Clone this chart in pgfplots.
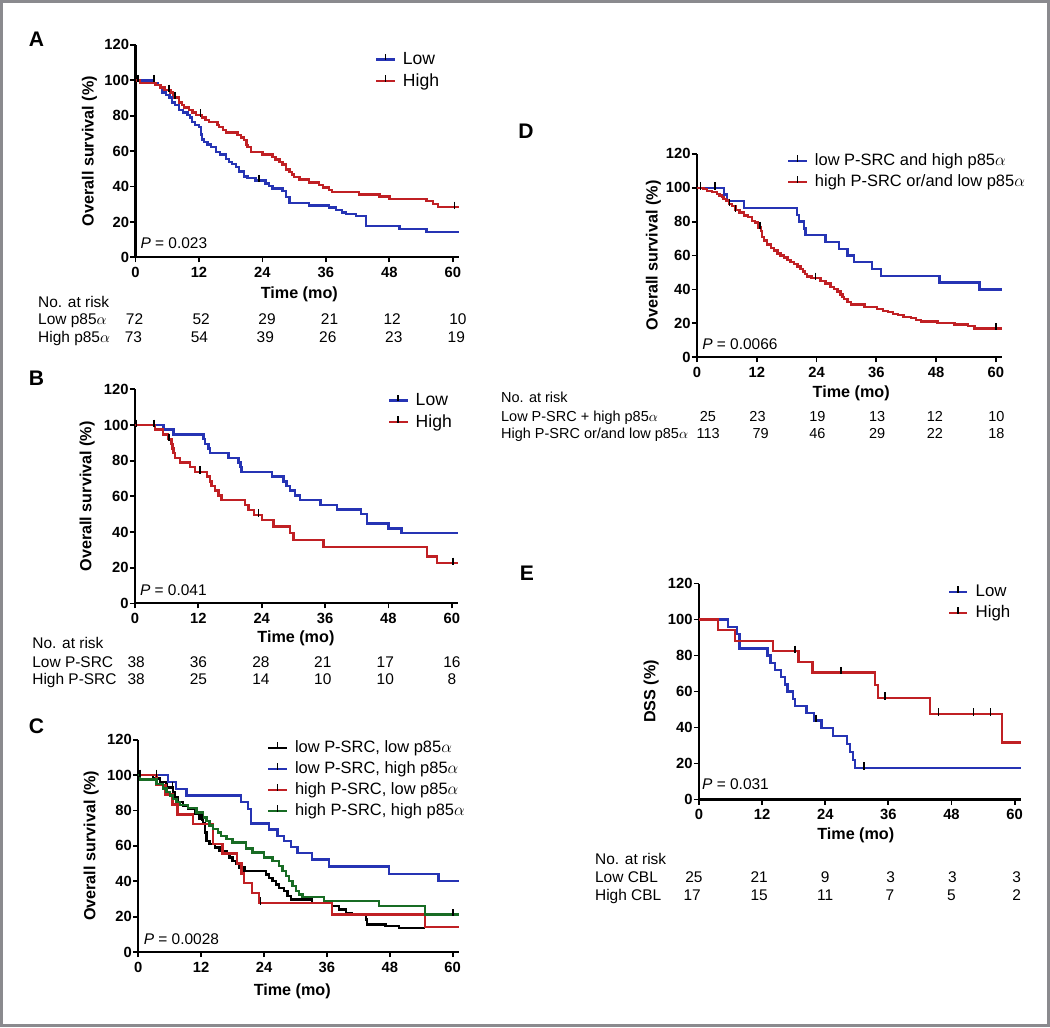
\documentclass[border=0pt]{standalone}
\usepackage{fontspec}
\setmainfont{Liberation Sans}
\usepackage{pgfplots}
\pgfplotsset{compat=1.18}

\definecolor{kmblue}{RGB}{38,52,180}
\definecolor{kmred}{RGB}{192,32,36}
\definecolor{kmgreen}{RGB}{24,108,36}
\definecolor{framegray}{RGB}{138,138,142}
\newcommand{\al}{$\alpha$}

\tikzset{pval/.style={anchor=west, inner sep=0pt, font=\fontsize{11}{13}\selectfont}}

\pgfplotsset{
  km/.style={
    scale only axis, anchor=south west, clip=false,
    axis x line*=bottom, axis y line*=left,
    axis line style={line width=1.5pt, black},
    xmin=0, xmax=61.2, ymin=0, ymax=120,
    xtick={0,12,24,36,48,60}, ytick={0,20,40,60,80,100,120},
    tick align=outside, major tick length=3.6pt,
    tick style={black, line width=1.3pt},
    tick label style={font=\fontsize{10.5}{12}\selectfont\bfseries},
    /pgf/number format/assume math mode=true,
    yticklabel style={inner sep=0.8pt},
    label style={font=\fontsize{11.5}{13}\selectfont\bfseries},
    xlabel={Time (mo)}, ylabel={Overall survival (\%)},
    legend cell align=left,
    legend style={draw=none, fill=none, inner sep=0pt, outer sep=0pt,
      row sep=5pt, anchor=north west, font=\fontsize{12.5}{14}\selectfont,
      nodes={inner sep=0pt},
      /tikz/every odd column/.append style={column sep=5pt}},
    legend image code/.code={
      \draw[##1, line width=1.7pt] (0cm,0cm) -- (0.46cm,0cm);
      \draw[black, line width=1.2pt] (0.23cm,-0.02cm) -- (0.23cm,0.14cm);},
  },
  curve/.style={const plot, line width=1.7pt, mark=none},
  cens/.style={only marks, mark=|, mark size=2.6pt, black,
    mark options={black, line width=1.2pt, yshift=1.3pt}, forget plot},
}

\begin{document}
\begin{tikzpicture}
\useasboundingbox (0,0) rectangle (26.25cm,-25.675cm);
\draw[framegray, line width=1.8pt] (0.0325cm,-0.0325cm) rectangle (26.2175cm,-25.6425cm);

% ---------------- A ----------------
\begin{axis}[km, at={(3.3875cm,-6.435cm)}, width=8.093cm, height=5.313cm,
  ylabel style={at={(axis description cs:-0.142,0.5)}, anchor=center},
  xlabel style={at={(axis description cs:0.506,-0.174)}, anchor=center},
  legend style={at={(axis cs:45.3,115.8)}}]
\addplot[curve, kmblue] coordinates {(0,100)(3.5,98.6)(4.2,97.2)(4.7,95.8)(5.1,93.1)(5.8,91.7)(6.4,90.3)(6.9,87.5)(7.5,86.1)(8.2,83.3)(9.0,81.9)(9.8,80.5)(10.3,79.1)(10.7,76.3)(11.3,74.9)(12.0,73.5)(12.4,69.4)(12.6,66.6)(13.0,65.2)(13.6,63.8)(14.3,62.4)(15.2,59.6)(16.0,58.2)(17.1,55.4)(17.7,54.0)(18.3,52.6)(19.0,51.2)(19.6,48.4)(20.5,45.6)(21.2,44.9)(22.7,43.5)(24.6,41.8)(25.2,40.4)(25.9,38.9)(27.8,37.4)(28.4,34.2)(29.1,30.8)(32.8,29.3)(36.6,28.2)(37.9,26.8)(39.0,25.3)(39.8,24.6)(41.7,23.3)(43.6,17.6)(49.9,16.2)(55.0,14.5)(61.2,14.5)};
\addlegendentry{Low}
\addplot[curve, kmred] coordinates {(0,100)(0.9,98.6)(3.8,97.3)(4.7,95.9)(5.5,94.5)(6.6,93.1)(7.1,91.7)(7.3,90.3)(8.2,87.5)(8.8,86.1)(9.2,84.7)(10.1,83.3)(10.8,81.9)(11.4,80.5)(12.6,79.1)(13.2,77.7)(13.9,76.3)(15.5,74.9)(15.8,73.5)(16.5,72.0)(17.1,70.6)(19.3,69.2)(19.9,67.8)(20.5,66.4)(21.0,63.6)(21.2,62.2)(21.8,59.4)(24.0,58.0)(25.9,56.6)(26.5,55.2)(27.2,53.8)(27.8,52.4)(28.4,49.6)(29.1,48.2)(29.6,46.8)(30.0,45.4)(31.0,43.9)(32.8,42.4)(34.7,41.0)(35.5,39.5)(36.6,38.0)(37.2,36.8)(42.3,35.6)(46.1,34.3)(48.0,33.0)(55.0,31.7)(56.2,30.3)(57.2,28.4)(61.2,28.4)};
\addlegendentry{High}
\addplot[cens] coordinates {(0.5,100)(3.5,100)(23.4,43.5)(6.3,94.5)(7.5,90.3)(12.3,80.5)(60.3,28.4)};
\node[pval] at (axis cs:0.9,8) {\textit{P} = 0.023};
\end{axis}

% ---------------- B ----------------
\begin{axis}[km, at={(3.375cm,-15.085cm)}, width=8.078cm, height=5.352cm,
  ylabel style={at={(axis description cs:-0.148,0.5)}, anchor=center},
  xlabel style={at={(axis description cs:0.498,-0.163)}, anchor=center},
  legend style={at={(axis cs:47.9,117.8)}}]
\addplot[curve, kmblue] coordinates {(0,100)(5.4,97.4)(7.3,94.7)(13.0,92.1)(13.3,89.5)(13.9,86.8)(14.2,84.2)(17.7,81.6)(19.6,78.9)(20.0,76.3)(20.2,73.7)(25.9,71.1)(28.1,68.4)(28.7,65.8)(29.4,63.2)(30.3,60.5)(31.3,57.9)(35.1,55.3)(38.2,52.6)(42.8,50.0)(43.9,44.7)(48.0,42.1)(50.5,39.5)(61.2,39.5)};
\addlegendentry{Low}
\addplot[curve, kmred] coordinates {(0,100)(3.8,97.4)(5.3,94.7)(6.3,92.1)(6.9,89.5)(7.1,86.8)(7.3,84.2)(7.6,81.6)(8.5,78.9)(10.4,76.3)(11.4,73.7)(13.6,71.1)(14.2,68.4)(14.5,65.8)(15.2,63.2)(15.8,60.5)(16.4,57.9)(20.8,55.2)(21.5,52.4)(22.5,49.6)(24.0,46.8)(26.2,43.1)(29.4,39.4)(30.0,35.6)(35.7,31.7)(55.3,26.4)(57.2,22.6)(61.2,22.6)};
\addlegendentry{High}
\addplot[cens] coordinates {(0.3,100)(3.6,100)(6.5,92.1)(12.3,73.7)(23.4,49.6)(60.2,22.6)};
\node[pval] at (axis cs:0.9,7.5) {\textit{P} = 0.041};
\end{axis}

% ---------------- C ----------------
\begin{axis}[km, at={(3.4575cm,-23.8025cm)}, width=8.017cm, height=5.313cm,
  ylabel style={at={(axis description cs:-0.147,0.5)}, anchor=center},
  xlabel style={at={(axis description cs:0.48,-0.186)}, anchor=center},
  legend style={at={(axis cs:24.6,119.3)}, font=\fontsize{11.7}{13}\selectfont}]
\addplot[curve, black] coordinates {(0,100)(2.8,98.0)(4.1,96.0)(5.4,93.0)(6.6,90.2)(7.0,87.5)(7.6,84.6)(8.5,82.7)(9.5,80.8)(10.8,78.0)(11.7,75.0)(12.3,73.0)(12.7,67.6)(13.0,62.8)(13.6,61.0)(14.6,59.0)(15.5,57.0)(16.8,55.3)(17.4,53.4)(18.0,51.5)(18.7,49.6)(19.3,47.7)(20.3,45.8)(24.4,43.9)(25.0,42.0)(25.6,40.0)(26.3,38.2)(26.9,36.3)(27.8,34.4)(28.5,31.6)(29.1,29.7)(33.2,27.8)(37.0,25.9)(38.3,24.0)(39.6,22.1)(40.8,21.2)(43.4,18.4)(43.7,15.5)(47.2,14.6)(49.7,13.6)(54.7,13.6)};
\addlegendentry{low P-SRC, low p85\al}
\addplot[curve, kmblue] coordinates {(0,100)(5.7,96.0)(7.2,92.2)(9.2,88.5)(19.6,84.6)(20.9,80.8)(21.5,72.6)(25.0,69.3)(26.6,65.7)(27.8,62.8)(29.1,59.2)(30.4,56.0)(33.2,52.4)(36.4,48.4)(47.8,44.2)(57.3,40.1)(61.2,40.1)};
\addlegendentry{low P-SRC, high p85\al}
\addplot[curve, kmred] coordinates {(0,100)(3.5,94.4)(5.2,88.9)(6.5,83.3)(7.5,77.8)(10.4,72.2)(14.2,61.1)(16.1,55.6)(18.8,50.0)(19.7,44.4)(20.2,38.9)(21.7,33.3)(23.0,27.8)(37.0,21.2)(54.7,14.2)(61.2,14.2)};
\addlegendentry{high P-SRC, low p85\al}
\addplot[curve, kmgreen] coordinates {(0,100)(0.3,97.5)(3.5,95.1)(4.7,92.5)(5.4,90.3)(6.0,88.4)(6.6,86.5)(7.3,84.6)(7.9,83.1)(9.5,81.4)(11.1,78.8)(12.3,76.0)(13.0,74.2)(13.6,71.4)(14.2,69.5)(15.2,67.6)(15.8,65.7)(16.8,63.8)(18.0,61.9)(20.6,58.5)(21.8,56.2)(24.0,53.4)(25.6,51.5)(26.9,48.6)(27.5,45.8)(28.2,43.0)(28.8,40.1)(29.4,37.3)(30.1,34.4)(30.7,32.6)(31.3,31.0)(35.4,28.8)(45.9,25.9)(54.7,21.2)(61.2,21.2)};
\addlegendentry{high P-SRC, high p85\al}
\addplot[cens] coordinates {(0.3,100)(3.5,100)(6.5,93.0)(12.1,75.0)(23.3,27.8)(60.1,21.2)};
\node[pval] at (axis cs:1.0,7.4) {\textit{P} = 0.0028};
\end{axis}

% ---------------- D ----------------
\begin{axis}[km, at={(17.425cm,-8.93cm)}, width=7.619cm, height=5.085cm,
  ylabel style={at={(axis description cs:-0.143,0.5)}, anchor=center},
  xlabel style={at={(axis description cs:0.506,-0.177)}, anchor=center},
  legend style={at={(axis cs:18.1,119.9)}, font=\fontsize{11.7}{13}\selectfont}]
\addplot[curve, kmblue] coordinates {(0,100)(5.4,96)(6.0,92)(9.4,88)(20.1,84)(20.5,80)(21.5,76)(21.8,72)(25.8,68)(28.5,64)(30.2,60)(31.5,56)(35.2,52)(36.9,48)(48.7,44)(56.7,40)(61.2,40)};
\addlegendentry{low P-SRC and high p85\al}
\addplot[curve, kmred] coordinates {(0,100)(1.3,99.1)(2.0,98.2)(3.0,97.3)(4.0,96.4)(4.5,95.5)(5.0,94.6)(5.3,93.4)(5.8,92.5)(6.4,90.3)(7.0,89.3)(7.7,86.7)(8.5,85.3)(9.4,83.5)(10.2,82.6)(11.1,80.4)(11.6,79.5)(12.3,76.6)(12.8,74.5)(13.1,71.0)(13.4,68.8)(14.0,66.5)(14.8,64.4)(15.5,63.0)(16.2,61.3)(16.8,60.0)(17.5,58.8)(18.2,57.3)(18.8,56.0)(19.5,54.9)(20.2,53.5)(20.8,52.2)(21.3,50.5)(21.7,49.2)(22.1,47.6)(23.0,46.7)(24.8,44.9)(25.8,43.5)(26.8,41.6)(27.5,40.2)(28.2,38.7)(28.8,37.1)(29.2,35.6)(29.5,34.2)(30.2,32.5)(30.9,31.1)(33.6,29.8)(36.2,28.4)(37.3,27.3)(38.3,26.5)(39.3,25.6)(40.3,24.8)(41.5,23.9)(43.0,23.0)(44.0,22.0)(45.0,21.1)(48.3,20.3)(51.7,19.2)(54.4,18.4)(55.7,16.9)(61.2,16.9)};
\addlegendentry{high P-SRC or/and low p85\al}
\addplot[cens] coordinates {(0.7,100)(3.6,100)(6.5,90.3)(7.7,86.7)(12.6,76.6)(23.8,46.7)(60.1,16.9)};
\node[pval] at (axis cs:1.0,7.6) {\textit{P} = 0.0066};
\end{axis}

% ---------------- E ----------------
\begin{axis}[km, at={(17.475cm,-19.9875cm)}, width=8.048cm, height=5.4cm,
  ylabel={DSS (\%)},
  ylabel style={at={(axis description cs:-0.1485,0.5)}, anchor=center},
  xlabel style={at={(axis description cs:0.487,-0.164)}, anchor=center},
  legend style={at={(axis cs:47.3,119.2)}, font=\fontsize{12}{14}\selectfont}]
\addplot[curve, kmblue] coordinates {(0,100)(5.5,96)(7.2,92)(7.7,84)(13.0,80)(13.6,76)(14.5,72)(15.6,68)(16.3,64)(16.8,60)(17.9,56)(18.2,52)(20.4,48)(21.9,44)(23.3,39.6)(25.5,35.2)(28.1,30.8)(28.7,26.4)(29.3,22.0)(29.7,17.6)(61.2,17.6)};
\addlegendentry{Low}
\addplot[curve, kmred] coordinates {(0,100)(3.6,94.1)(6.8,88.2)(14.1,82.4)(18.9,76.5)(21.6,70.6)(33.5,63.5)(34.0,56.5)(43.9,47.6)(57.6,31.7)(61.2,31.7)};
\addlegendentry{High}
\addplot[cens] coordinates {(22.2,44)(31.4,17.6)(18.2,82.4)(27.0,70.6)(35.4,56.5)(45.5,47.6)(52.2,47.6)(55.4,47.6)};
\node[pval] at (axis cs:0.55,8.4) {\textit{P} = 0.031};
\end{axis}

% ---------------- letters and at-risk tables ----------------
\begin{scope}[x=0.025cm, y=-0.025cm,
  lett/.style={anchor=base, inner sep=0pt, font=\fontsize{15}{17}\selectfont\bfseries},
  rk/.style={anchor=base west, inner sep=0pt, font=\fontsize{11}{13}\selectfont},
  num/.style={anchor=base, inner sep=0pt, font=\fontsize{11}{13}\selectfont},
  rkd/.style={anchor=base west, inner sep=0pt, font=\fontsize{10.3}{12}\selectfont},
  numd/.style={anchor=base, inner sep=0pt, font=\fontsize{10.3}{12}\selectfont}]
\node[lett] at (36.5,46.8) {A};
\node[lett] at (36.5,385.8) {B};
\node[lett] at (36.5,733.2) {C};
\node[lett] at (526,138.5) {D};
\node[lett] at (527,580.8) {E};
% A
\node[rk] at (37.9,307.2) {No. at risk};
\node[rk] at (37.9,324.8) {Low p85\al};
\node[rk] at (37.9,342.2) {High p85\al};
\foreach \x/\v in {134.6/72,201.2/52,267.1/29,329.6/21,392.2/12,458.1/10}
  \node[num] at (\x,324.8) {\v};
\foreach \x/\v in {133.5/73,199.5/54,265.4/39,327.9/26,393.9/23,456.4/19}
  \node[num] at (\x,342.2) {\v};
% B
\node[rk] at (32.1,648.8) {No. at risk};
\node[rk] at (32.1,667.2) {Low P-SRC};
\node[rk] at (32.1,684.5) {High P-SRC};
\foreach \x/\v in {136.2/38,198.4/36,261/28,322.9/21,385.4/17,452/16}
  \node[num] at (\x,667.2) {\v};
\foreach \x/\v in {136.2/38,198.4/25,261/14,322.9/10,385.4/10,452/8}
  \node[num] at (\x,684.5) {\v};
% D
\node[rkd] at (501,402.5) {No. at risk};
\node[rkd] at (501,421.2) {Low P-SRC + high p85\al};
\node[rkd] at (501,438.5) {High P-SRC or/and low p85\al};
\foreach \x/\v in {708/25,757.7/23,817.5/19,877.3/13,935.1/12,996.7/10}
  \node[numd] at (\x,421.2) {\v};
\foreach \x/\v in {708.4/113,760.8/79,817.5/46,877.3/29,935.1/22,996.7/18}
  \node[numd] at (\x,438.5) {\v};
% E
\node[rk] at (595,864.8) {No. at risk};
\node[rk] at (595,883.2) {Low CBL};
\node[rk] at (595,900.5) {High CBL};
\foreach \x/\v in {694.1/25,759.4/21,825.3/9,890.9/3,952.7/3,1017/3}
  \node[num] at (\x,883.2) {\v};
\foreach \x/\v in {692.4/17,759.4/15,825.3/11,890.2/7,951.7/5,1017/2}
  \node[num] at (\x,900.5) {\v};
\end{scope}
\end{tikzpicture}
\end{document}
